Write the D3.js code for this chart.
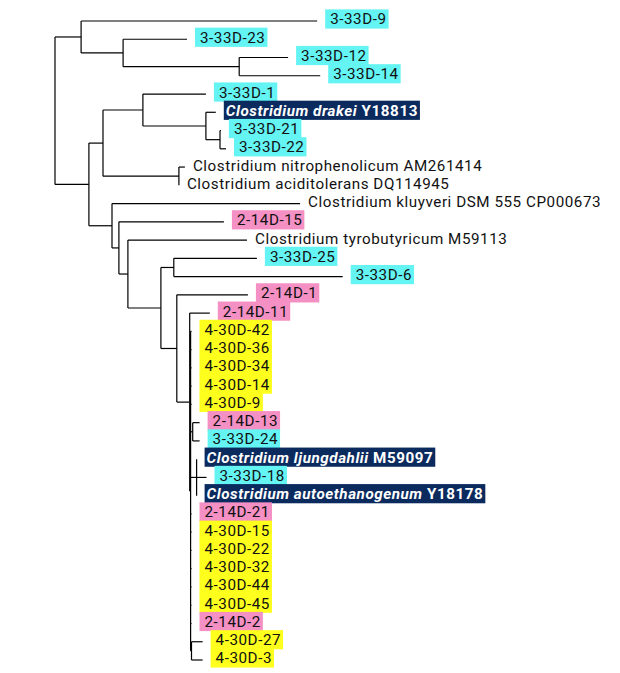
<!DOCTYPE html>
<html><head><meta charset="utf-8">
<script src="https://cdn.jsdelivr.net/npm/d3@7"></script>
<style>body{margin:0;background:#fff}svg{display:block}</style>
</head><body><svg id="c" width="620" height="673"></svg>
<script>
// Tree topology: [node, parent, branch length]; children keep this order (top to bottom)
const edges = [
  ["A","root",0.0087],
  ["3-33D-9","A",0.0787],
  ["A2","A",0.0140],
  ["3-33D-23","A2",0.0213],
  ["A3","A2",0.0387],
  ["3-33D-12","A3",0.0163],
  ["3-33D-14","A3",0.0270],
  ["B","root",0.0113],
  ["B1","B",0.0047],
  ["B11","B1",0.0133],
  ["3-33D-1","B11",0.0210],
  ["B111","B11",0.0210],
  ["Clostridium drakei Y18813","B111",0.0033],
  ["B1111","B111",0.0047],
  ["3-33D-21","B1111",0.0003],
  ["3-33D-22","B1111",0.0020],
  ["B12","B1",0.0253],
  ["Clostridium nitrophenolicum AM261414","B12",0.0020],
  ["Clostridium aciditolerans DQ114945","B12",0.0000],
  ["B2","B",0.0077],
  ["Clostridium kluyveri DSM 555 CP000673","B2",0.0627],
  ["B21","B2",0.0023],
  ["2-14D-15","B21",0.0350],
  ["B22","B21",0.0030],
  ["Clostridium tyrobutyricum M59113","B22",0.0397],
  ["B23","B22",0.0110],
  ["B231","B23",0.0043],
  ["3-33D-25","B231",0.0277],
  ["3-33D-6","B231",0.0563],
  ["N0","B23",0.0053],
  ["2-14D-1","N0",0.0237],
  ["N1","N0",0.0043],
  ["2-14D-11","N1",0.0067],
  ["N2","N1",0.0003],
  ["4-30D-42","N2",0.0003],
  ["4-30D-36","N2",0.0003],
  ["4-30D-34","N2",0.0003],
  ["4-30D-14","N2",0.0003],
  ["4-30D-9","N2",0.0003],
  ["P13","N2",0.0007],
  ["2-14D-13","P13",0.0023],
  ["3-33D-24","P13",0.0023],
  ["L","N2",0.0020],
  ["Clostridium ljungdahlii M59097","L",0.0000],
  ["3-33D-18","L",0.0033],
  ["Clostridium autoethanogenum Y18178","L",0.0000],
  ["2-14D-21","N2",0.0003],
  ["4-30D-15","N2",0.0003],
  ["4-30D-22","N2",0.0003],
  ["4-30D-32","N2",0.0003],
  ["4-30D-44","N2",0.0003],
  ["4-30D-45","N2",0.0003],
  ["2-14D-2","N2",0.0003],
  ["P27","N2",0.0003],
  ["4-30D-27","P27",0.0037],
  ["4-30D-3","P27",0.0037]
];
const cyanLeaves = ["3-33D-9","3-33D-23","3-33D-12","3-33D-14","3-33D-1","3-33D-21","3-33D-22","3-33D-25","3-33D-6","3-33D-24","3-33D-18"];
const pinkLeaves = ["2-14D-15","2-14D-1","2-14D-11","2-14D-13","2-14D-21","2-14D-2"];
const yellowLeaves = ["4-30D-42","4-30D-36","4-30D-34","4-30D-14","4-30D-9","4-30D-15","4-30D-22","4-30D-32","4-30D-44","4-30D-45","4-30D-27","4-30D-3"];
const refLeaves = ["Clostridium drakei Y18813","Clostridium ljungdahlii M59097","Clostridium autoethanogenum Y18178"];
const refSpecies = ["Clostridium  drakei","Clostridium  ljungdahlii","Clostridium  autoethanogenum"];
const refAccession = ["Y18813","M59097","Y18178"];

const COLORS = {cyan:"#64f4f4", pink:"#f490c4", yellow:"#ffff1e", ref:"#0b2a5e"};
const FONT = "Roboto,'Open Sans',sans-serif";

const svg = d3.select("#c");
svg.append("rect").attr("width",620).attr("height",673).attr("fill","#fff");

const root = d3.stratify().id(d=>d[0]).parentId(d=>d[1])([["root",null,0], ...edges]);
root.eachBefore(n => { n.len = n.parent ? n.parent.len + n.data[2] : 0; });
const leaves = root.leaves();
const x = d3.scaleLinear().domain([0,0.1]).range([55,355]);
const y = d3.scaleLinear().domain([0,leaves.length-1]).range([21,660]);
leaves.forEach((l,i)=>{ l.py = y(i); });
root.eachAfter(n => { if(n.children){ n.py = (n.children[0].py + n.children[n.children.length-1].py)/2; } });

// font size + letter spacing fitted to reference label width
const fs = 15.2;
const probeStr = "Clostridium kluyveri DSM 555 CP000673";
const probe = svg.append("text").attr("font-family",FONT).attr("font-size",fs).text(probeStr);
const ls = Math.max(0, (293 - probe.node().getComputedTextLength()) / probeStr.length);
probe.remove();

const lines = svg.append("g").attr("stroke","#000").attr("stroke-width",1.2).attr("fill","none");
lines.selectAll("line.h").data(root.descendants().filter(n=>n.parent)).join("line")
  .attr("x1",n=>x(n.parent.len)).attr("x2",n=>x(n.len)).attr("y1",n=>n.py).attr("y2",n=>n.py);
lines.selectAll("line.v").data(root.descendants().filter(n=>n.children)).join("line").attr("class","v")
  .attr("x1",n=>x(n.len)).attr("x2",n=>x(n.len))
  .attr("y1",n=>n.children[0].py).attr("y2",n=>n.children[n.children.length-1].py);

const labels = svg.append("g").attr("font-family",FONT).attr("font-size",fs).attr("letter-spacing",ls);
leaves.forEach(l=>{
  const name = l.id;
  const lx = x(l.len) + 8;
  const ly = l.py - 2;
  let kind = "plain";
  if (cyanLeaves.includes(name)) kind="cyan";
  else if (pinkLeaves.includes(name)) kind="pink";
  else if (yellowLeaves.includes(name)) kind="yellow";
  else if (refLeaves.includes(name)) kind="ref";
  const g = labels.append("g");
  const rect = kind==="plain" ? null : g.append("rect").attr("fill",COLORS[kind]);
  const t = g.append("text").attr("y",ly).attr("dy","0.36em");
  let tx;
  if (kind==="plain") { tx = lx; t.attr("fill","#111").text(name); }
  else if (kind==="ref") {
    const k = refLeaves.indexOf(name);
    tx = lx + 2;
    t.attr("fill","#fff").attr("font-weight","bold");
    t.append("tspan").attr("font-style","italic").text(refSpecies[k]);
    t.append("tspan").text(" " + refAccession[k]);
  } else { tx = lx + 5; t.attr("fill","#111").text(name); }
  t.attr("x",tx);
  if (rect) {
    const w = t.node().getComputedTextLength();
    rect.attr("x",lx).attr("y",ly-9.6).attr("height",19.2).attr("width",tx + w + 2 - lx);
  }
});
</script></body></html>
